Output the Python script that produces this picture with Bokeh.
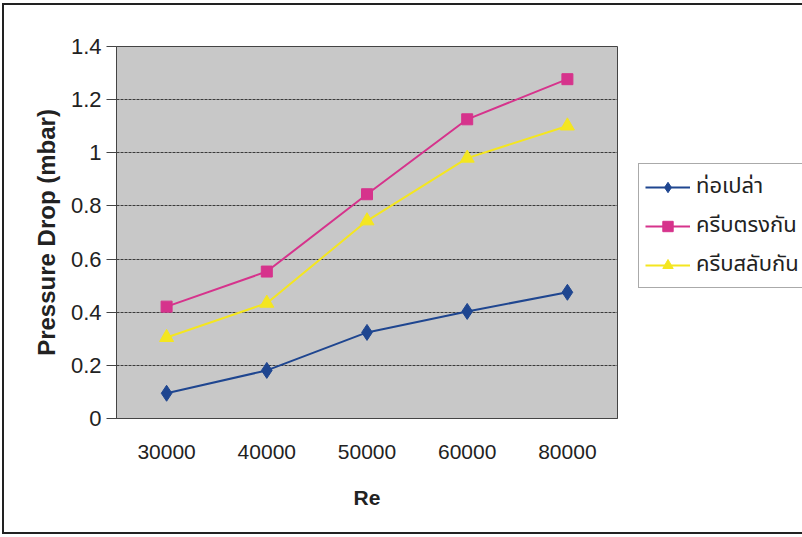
from bokeh.plotting import figure
from bokeh.models import Legend, LegendItem, FactorRange, Range1d, FixedTicker
from bokeh.embed import file_html
from bokeh.resources import INLINE

re_labels = ["30000", "40000", "50000", "60000", "80000"]
bare_tube = [0.095, 0.181, 0.324, 0.403, 0.475]
inline_fins = [0.421, 0.553, 0.844, 1.126, 1.277]
staggered_fins = [0.305, 0.434, 0.744, 0.980, 1.101]
y_ticks = [0, 0.2, 0.4, 0.6, 0.8, 1.0, 1.2, 1.4]
y_tick_labels = ["0", "0.2", "0.4", "0.6", "0.8", "1", "1.2", "1.4"]
names = ["ท่อเปล่า", "ครีบตรงกัน", "ครีบสลับกัน"]

FONT = "Liberation Sans"
THAI = "Noto Sans Thai, Noto Sans, Loma, sans-serif"

p = figure(
    x_range=FactorRange(*re_labels), y_range=Range1d(0, 1.4),
    frame_width=501, frame_height=372,
    min_border_left=112, min_border_top=41, min_border_right=180, min_border_bottom=114,
    output_backend="svg", toolbar_location=None,
    background_fill_color="#c8c8c8", border_fill_color="white",
)
p.styles = {"border-left": "2px solid #222", "border-top": "2px solid #222",
            "border-bottom": "2px solid #222", "margin-left": "2px", "margin-top": "3px"}

p.outline_line_color = "#444"
p.outline_line_width = 1

p.xgrid.grid_line_color = None
p.ygrid.grid_line_color = "#3a3a3a"
p.ygrid.grid_line_width = 1
p.ygrid.grid_line_dash = "3 1"

p.yaxis.ticker = FixedTicker(ticks=y_ticks)
p.yaxis.major_label_overrides = {t: l for t, l in zip(y_ticks, y_tick_labels)}
p.yaxis.major_tick_out = 10
p.yaxis.major_tick_in = 0
p.yaxis.minor_tick_line_color = None
p.yaxis.major_label_standoff = 5
p.yaxis.axis_line_color = "#444"
p.yaxis.major_tick_line_color = "#444"
p.yaxis.major_label_text_font = FONT
p.yaxis.major_label_text_font_size = "22px"
p.yaxis.major_label_text_color = "#222"
p.yaxis.axis_label = "Pressure Drop (mbar)"
p.yaxis.axis_label_text_font = FONT
p.yaxis.axis_label_text_font_size = "24px"
p.yaxis.axis_label_text_font_style = "bold"
p.yaxis.axis_label_text_color = "#222"
p.yaxis.axis_label_standoff = 8

p.xaxis.major_tick_line_color = None
p.xaxis.axis_line_color = "#444"
p.xaxis.major_label_standoff = 20
p.xaxis.major_label_text_font = FONT
p.xaxis.major_label_text_font_size = "21px"
p.xaxis.major_label_text_color = "#222"
p.xaxis.axis_label = "Re"
p.xaxis.axis_label_text_font = FONT
p.xaxis.axis_label_text_font_size = "21px"
p.xaxis.axis_label_text_font_style = "bold"
p.xaxis.axis_label_text_color = "#222"
p.xaxis.axis_label_standoff = 24

c1, c2, c3 = "#1f4690", "#d6338c", "#f4e620"
l1 = p.line(re_labels, bare_tube, line_color=c1, line_width=2)
m1 = p.scatter(re_labels, bare_tube, marker="diamond", size=16, fill_color=c1, line_color=c1)
l2 = p.line(re_labels, inline_fins, line_color=c2, line_width=2)
m2 = p.scatter(re_labels, inline_fins, marker="square", size=11, fill_color=c2, line_color=c2)
l3 = p.line(re_labels, staggered_fins, line_color=c3, line_width=2)
m3 = p.scatter(re_labels, staggered_fins, marker="triangle", size=14, fill_color=c3, line_color=c3)

legend = Legend(
    items=[LegendItem(label=names[0], renderers=[l1, m1]),
           LegendItem(label=names[1], renderers=[l2, m2]),
           LegendItem(label=names[2], renderers=[l3, m3])],
    location=(21, 130),
    label_text_font=THAI, label_text_font_size="22px", label_text_color="#222",
    glyph_width=45, glyph_height=26, spacing=6, padding=6, margin=0,
    label_standoff=6, label_height=26,
    border_line_color="#555", border_line_width=1,
    background_fill_color="white", background_fill_alpha=1,
)
p.add_layout(legend, "right")

open("out.html", "w").write(file_html(p, INLINE))
